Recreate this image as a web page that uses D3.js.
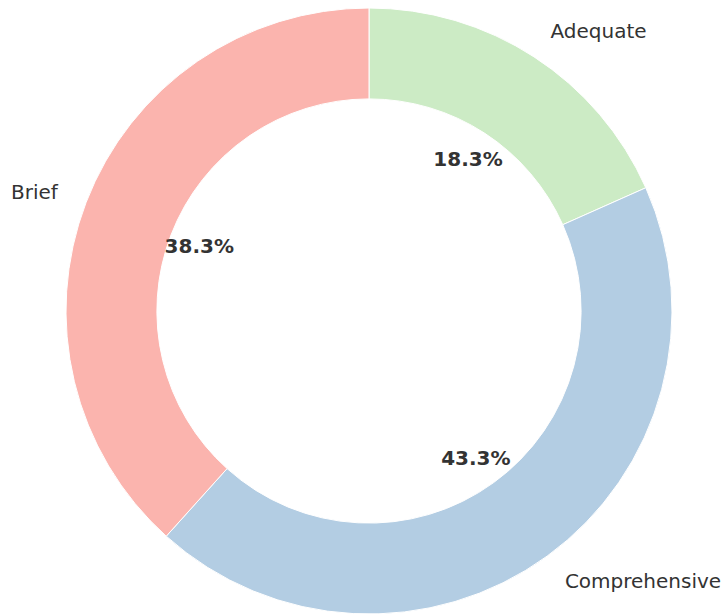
<!DOCTYPE html>
<html><head><meta charset="utf-8">
<script src="https://cdn.jsdelivr.net/npm/d3@7"></script>
<style>html,body{margin:0;padding:0;background:#fff;}svg{display:block;}</style>
</head><body>
<svg id="c" width="724" height="615"></svg>
<script>
const categories = ["Adequate", "Comprehensive", "Brief"];
const values = [11, 26, 23];
const colors = ["#ccebc5", "#b3cde3", "#fbb4ae"];

const W = 724, H = 615;
const cx = 369, cy = 311, R = 303, r = R * 0.7;
const svg = d3.select("#c");
const g = svg.append("g").attr("transform", `translate(${cx},${cy})`);

const total = d3.sum(values);
const pie = d3.pie().sort(null).value(d => d)(values);
const arc = d3.arc().innerRadius(r).outerRadius(R);

g.selectAll("path").data(pie).enter().append("path")
  .attr("d", arc)
  .attr("fill", (d, i) => colors[i])
  .attr("stroke", "#fff").attr("stroke-width", 1);

function pos(d, k) {
  const a = (d.startAngle + d.endAngle) / 2;
  return [Math.sin(a) * R * k, -Math.cos(a) * R * k];
}

g.selectAll("text.lab").data(pie).enter().append("text")
  .attr("class", "lab")
  .attr("x", d => pos(d, 1.1)[0])
  .attr("y", d => pos(d, 1.1)[1])
  .attr("dy", "0.35em")
  .attr("text-anchor", d => pos(d, 1)[0] >= 0 ? "start" : "end")
  .attr("font-family", "DejaVu Sans")
  .attr("font-size", 20)
  .attr("fill", "#333")
  .text((d, i) => categories[i]);

g.selectAll("text.pct").data(pie).enter().append("text")
  .attr("class", "pct")
  .attr("x", d => pos(d, 0.6)[0])
  .attr("y", d => pos(d, 0.6)[1])
  .attr("dy", "0.35em")
  .attr("text-anchor", "middle")
  .attr("font-family", "DejaVu Sans")
  .attr("font-weight", "bold")
  .attr("font-size", 20)
  .attr("fill", "#333")
  .text(d => (d.value / total * 100).toFixed(1) + "%");
</script>
</body></html>
